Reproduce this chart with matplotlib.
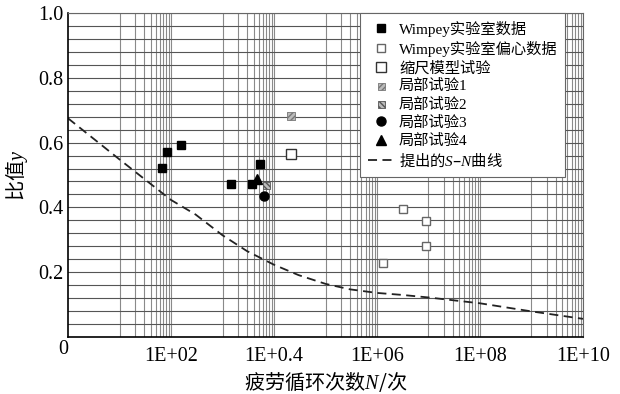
import matplotlib
matplotlib.use('Agg')
import matplotlib.pyplot as plt
from matplotlib.ticker import FixedLocator, MultipleLocator, NullFormatter

# 字体：数字用衬线体，中文用 Noto Sans CJK
plt.rcParams['font.family'] = ['Liberation Serif', 'Noto Sans CJK SC']
plt.rcParams['mathtext.fontset'] = 'custom'
plt.rcParams['mathtext.rm'] = 'Liberation Serif'
plt.rcParams['mathtext.it'] = 'Liberation Serif:italic'
plt.rcParams['axes.unicode_minus'] = False

CJK = 'Noto Sans CJK SC'

# =========================
# 数据
# =========================
wimpey_N = [68, 82, 156, 1440, 3700, 5350]
wimpey_y = [0.522, 0.570, 0.593, 0.473, 0.471, 0.533]

ecc_N = [1.32e6, 3.16e6, 8.8e6, 8.8e6]
ecc_y = [0.228, 0.395, 0.359, 0.281]

scale_N = [21400]
scale_y = [0.565]

local1_N = [21400]
local1_y = [0.682]
local2_N = [7100]
local2_y = [0.467]
local3_N = [6480]
local3_y = [0.436]
local4_N = [4740]
local4_y = [0.487]

sn_N = [1, 10, 100, 300, 1e3, 3e3, 1e4, 3e4, 1e5, 3e5, 1e6, 3e6, 1e7, 1e8, 1e9, 1e10]
sn_y = [0.675, 0.548, 0.423, 0.378, 0.314, 0.265, 0.223, 0.191, 0.164, 0.147,
        0.136, 0.130, 0.122, 0.104, 0.079, 0.056]

xtick_vals = [1e2, 1e4, 1e6, 1e8, 1e10]
xtick_labels = ['1E+02', '1E+0.4', '1E+06', '1E+08', '1E+10']
ytick_vals = [0.2, 0.4, 0.6, 0.8, 1.0]

# =========================
# 绘图
# =========================
fig = plt.figure(figsize=(6.2, 3.94), dpi=100)
ax = fig.add_axes([0.1097, 0.1447, 0.8306, 0.8223])
ax.set_xscale('log')
ax.set_xlim(1, 1e10)
ax.set_ylim(0, 1.0)

# 网格
ax.set_xticks(xtick_vals)
ax.set_xticklabels(xtick_labels)
minor_x = []
for k in [1, 3, 5, 7, 9]:
    for m in range(1, 10):
        minor_x.append(m * 10 ** k)
ax.xaxis.set_minor_locator(FixedLocator(minor_x))
ax.xaxis.set_minor_formatter(NullFormatter())
ax.set_yticks(ytick_vals)
ax.set_yticklabels(['0.2', '0.4', '0.6', '0.8', '1.0'])
ax.yaxis.set_minor_locator(MultipleLocator(0.04))
ax.grid(True, which='both', axis='x', color='#8a8a8a', linewidth=0.8)
ax.grid(True, which='both', axis='y', color='#555555', linewidth=0.8)
ax.set_axisbelow(True)

ax.tick_params(which='both', length=0, labelsize=14.5)
ax.tick_params(axis='x', pad=7)
ax.tick_params(axis='y', pad=3)
for s in ['top', 'right']:
    ax.spines[s].set_color('#666666')
    ax.spines[s].set_linewidth(0.8)
for s in ['left', 'bottom']:
    ax.spines[s].set_color('black')
    ax.spines[s].set_linewidth(1.2)

ax.annotate('0', xy=(1, 0), xycoords='data', xytext=(-5, -13),
            textcoords='offset pixels', ha='center', va='center', fontsize=14.5)

# 数据点
ax.plot(wimpey_N, wimpey_y, linestyle='none', marker='s', ms=6,
        color='black', label='Wimpey实验室数据')
ax.plot(ecc_N, ecc_y, linestyle='none', marker='s', ms=5.5, mfc='white',
        mec='#666666', mew=1.0, label='Wimpey实验室偏心数据')
ax.plot(scale_N, scale_y, linestyle='none', marker='s', ms=7, mfc='white',
        mec='#333333', mew=1.0, label='缩尺模型试验')
ax.scatter(local1_N, local1_y, marker='s', s=30, facecolor='#bbbbbb',
           edgecolor='#777777', hatch='//////', linewidths=0.6, label='局部试验1', zorder=3)
ax.scatter(local2_N, local2_y, marker='s', s=30, facecolor='#bbbbbb',
           edgecolor='#555555', hatch='\\\\\\\\\\\\', linewidths=0.6, label='局部试验2', zorder=3)
ax.plot(local3_N, local3_y, linestyle='none', marker='o', ms=6.5,
        color='black', label='局部试验3')
ax.plot(local4_N, local4_y, linestyle='none', marker='^', ms=6.5,
        color='black', label='局部试验4')
ax.plot(sn_N, sn_y, linestyle=(0, (5, 3)), color='#222222', linewidth=1.3,
        label='提出的$S$–$N$曲线')

ax.set_xlabel('疲劳循环次数$N$/次', fontsize=14.5, labelpad=3, family=CJK)
ax.set_ylabel('比值$y$', fontsize=14.5, labelpad=6, family=CJK)

leg = ax.legend(loc='upper left', bbox_to_anchor=(0.567, 1.0), borderaxespad=0,
                fontsize=11, frameon=True, fancybox=False, framealpha=1,
                edgecolor='#666666', labelspacing=0.27, handlelength=1.8,
                handletextpad=0.25, borderpad=0.5)
leg.get_frame().set_linewidth(0.8)
leg.get_texts()[-1].set_family(CJK)

fig.savefig('out.png', dpi=100)
